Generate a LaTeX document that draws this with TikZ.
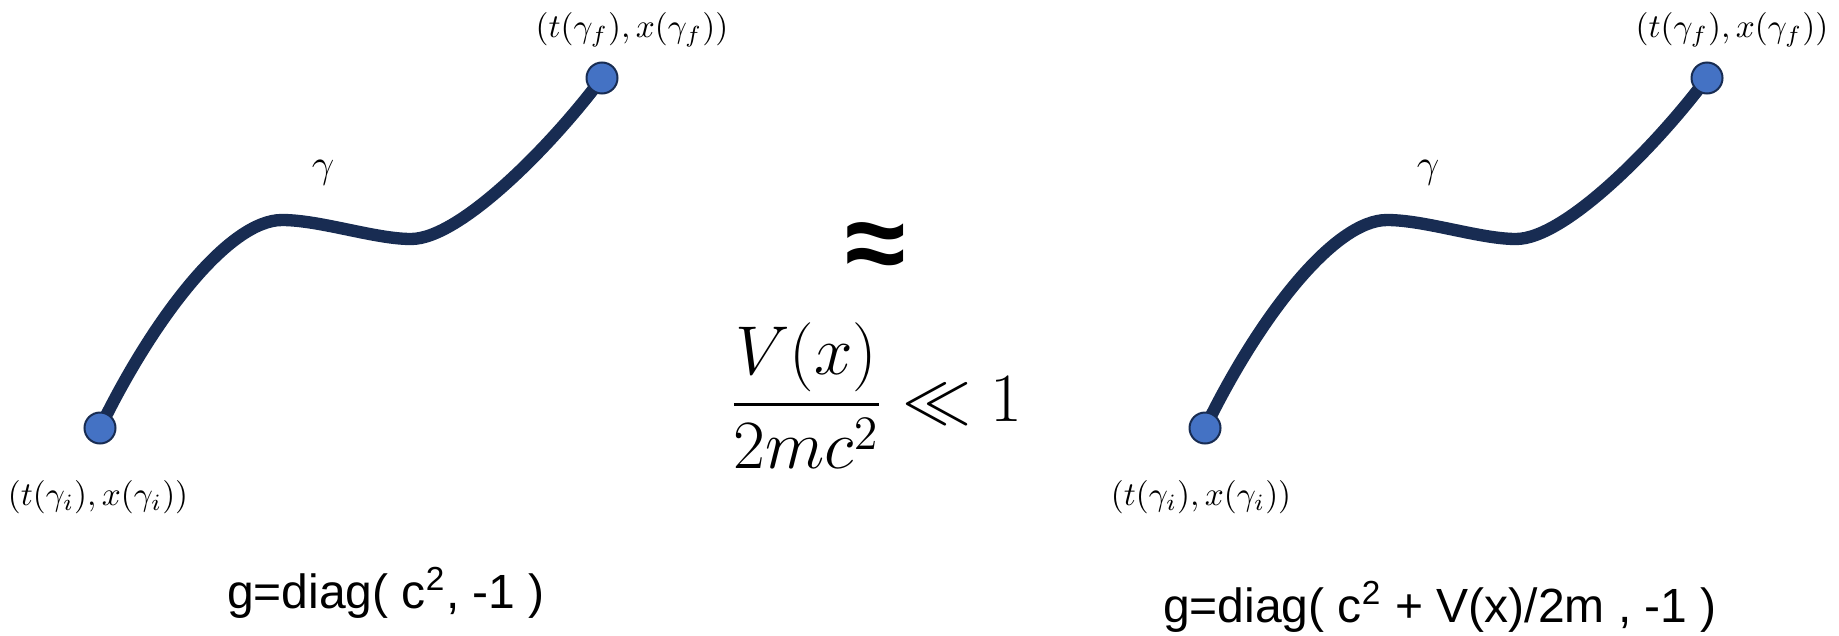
\documentclass[tikz,border=0pt]{standalone}
\usepackage{amsmath,amssymb}
\usepackage[no-math]{fontspec}
\newfontfamily\arialfont{Liberation Sans}
\usepackage{tikz}
\usetikzlibrary{positioning,backgrounds}
\definecolor{pathnavy}{RGB}{24,44,82}
\definecolor{dotblue}{RGB}{68,114,196}
\tikzset{
  worldline/.style={line width=3.7pt,pathnavy},
  endpt/.style={circle,draw=pathnavy,line width=0.6pt,fill=dotblue,
    minimum size=9.3pt,inner sep=0pt},
  evlabel/.style={font=\fontsize{10}{12}\selectfont,inner sep=0pt},
  pathname/.style={font=\fontsize{13}{15}\selectfont,inner sep=0pt},
  metric/.style={font=\arialfont\fontsize{14.4}{17}\selectfont,anchor=base,inner sep=0pt}
}

\begin{document}
\begin{tikzpicture}[x=0.3pt,y=-0.3pt]
  \useasboundingbox (0,0) rectangle (1839,635);
  % flat metric
  \node[endpt] (li) at (100,428) {};
  \node[endpt] (lf) at (602,78) {};
  \coordinate (lpk) at (282,220);
  \coordinate (lmn) at (411,239);
  \begin{scope}[on background layer]
    \draw[worldline] (li.center) .. controls (155,315) and (230,220) .. (lpk)
      .. controls (320,220) and (375,239) .. (lmn)
      .. controls (460,239) and (552,145) .. (lf.center);
  \end{scope}
  \node[evlabel] (lil) at (98,497) {$(t(\gamma_i),x(\gamma_i))$};
  \node[evlabel] (lfl) at (632,30) {$(t(\gamma_f),x(\gamma_f))$};
  \node[pathname] (lg) at (323,173) {$\gamma$};
  \node[metric] (lm) at (386,608) {g=diag( c\textsuperscript{2}, -1 )};
  % middle
  \node[inner sep=0pt,font=\arialfont\bfseries\fontsize{33}{36}\selectfont] (apx) at (876,252) {≈};
  \node[inner sep=0pt,font=\fontsize{21}{25}\selectfont] (cond) at (876,396)
    {$\displaystyle\frac{V(x)}{2mc^2}\ll 1$};
  % metric with potential
  \node[endpt] (ri) at (1205,428) {};
  \node[endpt] (rf) at (1707,78) {};
  \coordinate (rpk) at (1387,220);
  \coordinate (rmn) at (1516,239);
  \begin{scope}[on background layer]
    \draw[worldline] (ri.center) .. controls (1260,315) and (1335,220) .. (rpk)
      .. controls (1425,220) and (1480,239) .. (rmn)
      .. controls (1565,239) and (1657,145) .. (rf.center);
  \end{scope}
  \node[evlabel] (ril) at (1201,497) {$(t(\gamma_i),x(\gamma_i))$};
  \node[evlabel] (rfl) at (1732,30) {$(t(\gamma_f),x(\gamma_f))$};
  \node[pathname] (rg) at (1428,173) {$\gamma$};
  \node[metric] (rm) at (1440,622) {g=diag( c\textsuperscript{2} + V(x)/2m , -1 )};
\end{tikzpicture}
\end{document}
